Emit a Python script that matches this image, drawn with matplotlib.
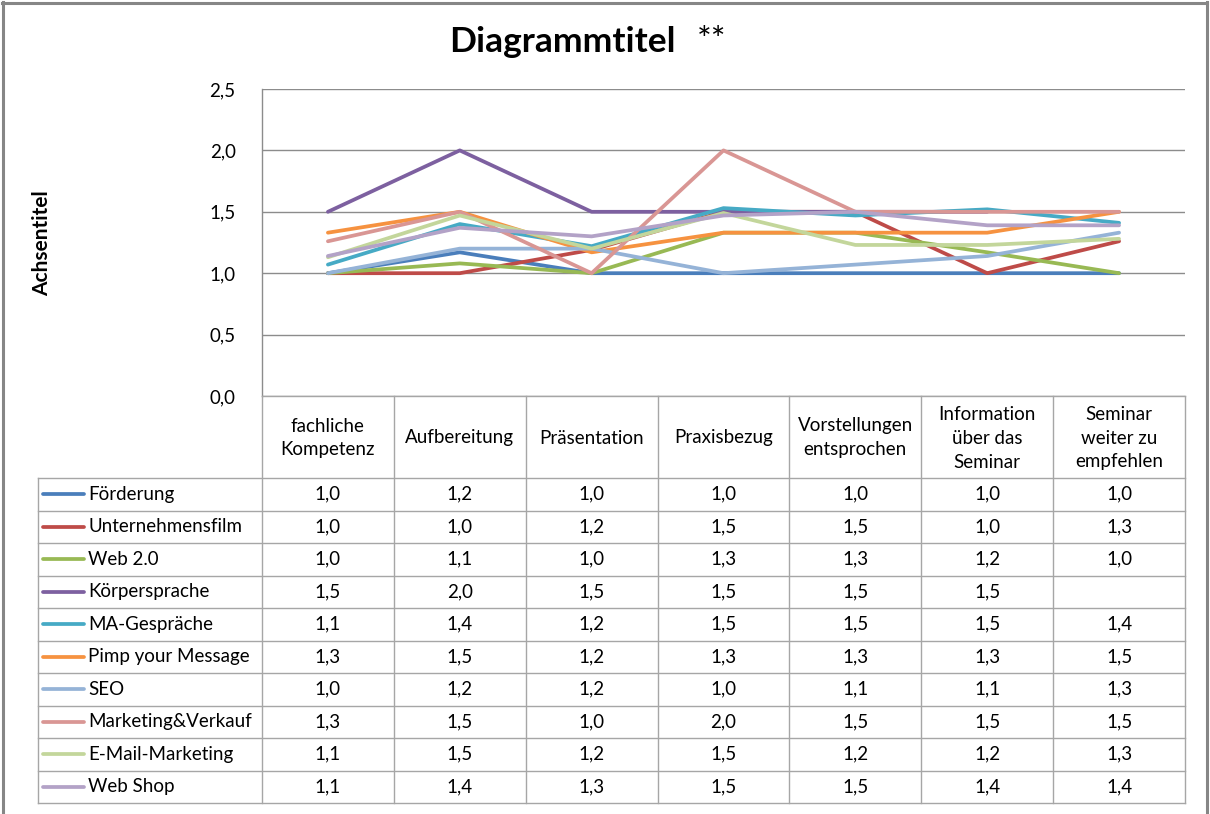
import numpy as np
import matplotlib
matplotlib.use("Agg")
import matplotlib.pyplot as plt
from matplotlib.ticker import FuncFormatter, MultipleLocator

plt.rcParams['font.family'] = ['Lato', 'DejaVu Sans']

categories = ["fachliche\nKompetenz", "Aufbereitung", "Präsentation", "Praxisbezug",
              "Vorstellungen\nentsprochen", "Information\nüber das\nSeminar",
              "Seminar\nweiter zu\nempfehlen"]

series_names = ["Förderung", "Unternehmensfilm", "Web 2.0", "Körpersprache",
                "MA-Gespräche", "Pimp your Message", "SEO", "Marketing&Verkauf",
                "E-Mail-Marketing", "Web Shop"]

foerderung = [1.0, 1.17, 1.0, 1.0, 1.0, 1.0, 1.0]
unternehmensfilm = [1.0, 1.0, 1.19, 1.5, 1.5, 1.0, 1.26]
web20 = [1.0, 1.08, 1.0, 1.33, 1.33, 1.17, 1.0]
koerpersprache = [1.5, 2.0, 1.5, 1.5, 1.5, 1.5, np.nan]
ma_gespraeche = [1.07, 1.40, 1.22, 1.53, 1.47, 1.52, 1.41]
pimp = [1.33, 1.5, 1.17, 1.33, 1.33, 1.33, 1.5]
seo = [1.0, 1.2, 1.2, 1.0, 1.07, 1.14, 1.33]
marketing = [1.26, 1.5, 1.0, 2.0, 1.5, 1.5, 1.5]
email = [1.13, 1.47, 1.2, 1.49, 1.23, 1.23, 1.28]
webshop = [1.14, 1.37, 1.30, 1.47, 1.5, 1.39, 1.39]

series_values = [foerderung, unternehmensfilm, web20, koerpersprache, ma_gespraeche,
                 pimp, seo, marketing, email, webshop]

colors = ["#4A7EBB", "#BE4B48", "#98B954", "#7D60A0", "#46AAC5", "#F69240",
          "#95B3D7", "#D99694", "#C3D69B", "#B3A2C7"]

title = "Diagrammtitel"
y_title = "Achsentitel"

W, H = 1210, 814
fig = plt.figure(figsize=(W / 100, H / 100), dpi=100)
fig.patch.set_facecolor("white")

# plot area pixel box
L, R, T, B = 262, 1185, 89, 396
ax = fig.add_axes([L / W, 1 - B / H, (R - L) / W, (B - T) / H])
x = np.arange(len(categories))
for vals, col in zip(series_values, colors):
    ax.plot(x, vals, color=col, lw=2.7, solid_capstyle="round", solid_joinstyle="round", zorder=3)
ax.set_xlim(-0.5, len(categories) - 0.5)
ax.set_ylim(0, 2.5)
ax.yaxis.set_major_locator(MultipleLocator(0.5))
ax.yaxis.set_major_formatter(FuncFormatter(lambda v, p: f"{v:.1f}".replace(".", ",")))
ax.grid(axis="y", color="#8C8C8C", lw=1.0, zorder=0)
ax.set_xticks([])
for s in ["top", "right", "bottom"]:
    ax.spines[s].set_visible(False)
ax.spines["left"].set_color("#8C8C8C")
ax.spines["left"].set_linewidth(1.0)
ax.tick_params(axis="y", length=0, pad=19, labelsize=13.5, labelcolor="#000000")

# overlay for table, titles and frame
ov = fig.add_axes([0, 0, 1, 1])
ov.set_xlim(0, W)
ov.set_ylim(H, 0)
ov.axis("off")

grid_col = "#A6A6A6"
col_w = (R - L) / len(categories)
col_edges = [L + i * col_w for i in range(len(categories) + 1)]
head_top, head_bot = 396, 478
row_h = (803 - head_bot) / len(series_names)
row_edges = [head_bot + i * row_h for i in range(len(series_names) + 1)]
leg_left = 38

# vertical lines
for cx in col_edges:
    ov.plot([cx, cx], [head_top, row_edges[-1]], color=grid_col, lw=1.0)
ov.plot([leg_left, leg_left], [head_bot, row_edges[-1]], color=grid_col, lw=1.0)
# horizontal lines
ov.plot([L, R], [head_top, head_top], color=grid_col, lw=1.0)
for ry in row_edges:
    ov.plot([leg_left, R], [ry, ry], color=grid_col, lw=1.0)

fs = 13.5
# header
for i, cat in enumerate(categories):
    cx = (col_edges[i] + col_edges[i + 1]) / 2
    ov.text(cx, (head_top + head_bot) / 2 + 1, cat, ha="center", va="center",
            fontsize=fs, linespacing=1.5, color="#000000")

# rows
for r, (name, vals, col) in enumerate(zip(series_names, series_values, colors)):
    cy = (row_edges[r] + row_edges[r + 1]) / 2
    ov.plot([43, 84], [cy, cy], color=col, lw=2.7, solid_capstyle="round")
    ov.text(88, cy, name, ha="left", va="center", fontsize=fs, color="#000000")
    for i, v in enumerate(vals):
        if np.isnan(v):
            continue
        cx = (col_edges[i] + col_edges[i + 1]) / 2
        ov.text(cx, cy, f"{v:.1f}".replace(".", ","), ha="center", va="center",
                fontsize=fs, color="#000000")

# titles
ov.text(562, 42, title, ha="center", va="center", fontsize=25.5, fontweight="bold", color="#000000")
ov.text(712, 41, "**", ha="center", va="center", fontsize=25, color="#000000")
ov.text(42, 243, y_title, ha="center", va="center", rotation=90, fontsize=15,
        fontweight="bold", color="#000000")

# outer frame
frame_col = "#868686"
ov.plot([2.5, 2.5], [2, H + 5], color=frame_col, lw=2.2)
ov.plot([1206.5, 1206.5], [2, H + 5], color=frame_col, lw=2.2)
ov.plot([2, 1207], [2.5, 2.5], color=frame_col, lw=2.2)

fig.savefig("out.png", dpi=100, facecolor="white")
